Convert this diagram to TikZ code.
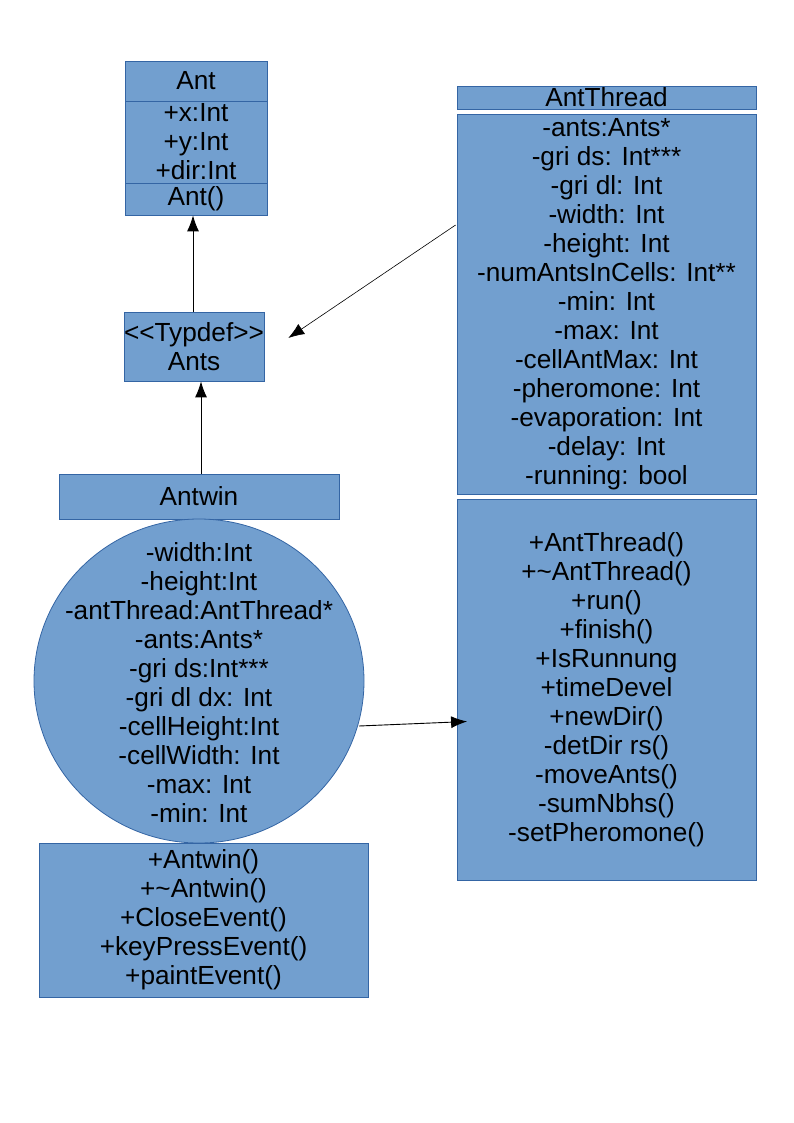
\documentclass[tikz,border=0pt]{standalone}
\usepackage{fontspec}
\setmainfont{Liberation Sans}
\usetikzlibrary{arrows.meta,shapes.geometric,calc}
\definecolor{fillc}{HTML}{729FCF}
\definecolor{edgec}{HTML}{3465A4}
\begin{document}
\begin{tikzpicture}[x=1pt,y=-1pt,
 umlbox/.style={draw=edgec,fill=fillc,line width=0.8pt,inner sep=0pt,align=center,font=\fontsize{26.2}{29}\selectfont},
 txt/.style={inner sep=0pt,align=center,font=\fontsize{26.2}{29}\selectfont},
 arr/.style={-{Latex[length=16pt,width=12pt]},line width=0.9pt},
 thinarr/.style={-{Latex[length=16pt,width=12pt]},line width=0.6pt}]
\useasboundingbox (0,0) rectangle (794,1123);
% Ant
\node[umlbox,minimum width=142pt,minimum height=40pt] (antT) at (196,81) {Ant};
\node[umlbox,minimum width=142pt,minimum height=82pt] (antA) at (196,142) {+x:Int\\+y:Int\\+dir:Int};
\node[umlbox,minimum width=142pt,minimum height=32pt] (antO) at (196,199) {Ant()};
% Typdef
\node[umlbox,minimum width=138pt,minimum height=69pt] (typ) at (194,346.5) {<{}<Typdef>{}>\\Ants};
% Antwin
\node[umlbox,minimum width=280pt,minimum height=45pt] (aw) at (199,496.5) {Antwin};
\node[draw=edgec,fill=fillc,line width=0.8pt,ellipse,inner sep=0pt,minimum width=330pt,minimum height=324pt] (circ) at (199,681) {};
\node[txt] (circT) at ($(circ.center)+(0,1.5)$) {-width:Int\\-height:Int\\-antThread:AntThread*\\-ants:Ants*\\-gri ds:Int***\\-gri dl dx: Int\\-cellHeight:Int\\-cellWidth: Int\\-max: Int\\-min: Int};
\node[umlbox,minimum width=329pt,minimum height=154pt] (awO) at (203.5,920) {+Antwin()\\+\textasciitilde Antwin()\\+CloseEvent()\\+keyPressEvent()\\+paintEvent()};
% AntThread
\node[umlbox,minimum width=299pt,minimum height=23pt] (thT) at (606.5,97.5) {AntThread};
\node[umlbox,minimum width=299pt,minimum height=380pt] (thA) at (606.5,304) {-ants:Ants*\\-gri ds: Int***\\-gri dl: Int\\-width: Int\\-height: Int\\-numAntsInCells: Int**\\-min: Int\\-max: Int\\-cellAntMax: Int\\-pheromone: Int\\-evaporation: Int\\-delay: Int\\-running: bool};
\node[umlbox,minimum width=299pt,minimum height=381pt] (thM) at (606.5,689.5) {+AntThread()\\+\textasciitilde AntThread()\\+run()\\+finish()\\+IsRunnung\\+timeDevel\\+newDir()\\-detDir rs()\\-moveAnts()\\-sumNbhs()\\-setPheromone()};
% connectors
\draw[arr] ($(typ.north)+(-1,0)$) -- ($(antO.south)+(-3,0)$);
\draw[arr] ($(aw.north)+(2,0)$) -- ($(typ.south)+(7,0)$);
\coordinate (thAstart) at ($(thA.west)+(-1,-79)$);
\coordinate (typTip) at ($(typ.east)+(24,-8.5)$);
\draw[thinarr] (thAstart) -- (typTip);
\coordinate (circStart) at (359,726);
\coordinate (thMTip) at ($(thM.west)+(10.5,32)$);
\draw[arr] (circStart) -- (thMTip);
\end{tikzpicture}
\end{document}
